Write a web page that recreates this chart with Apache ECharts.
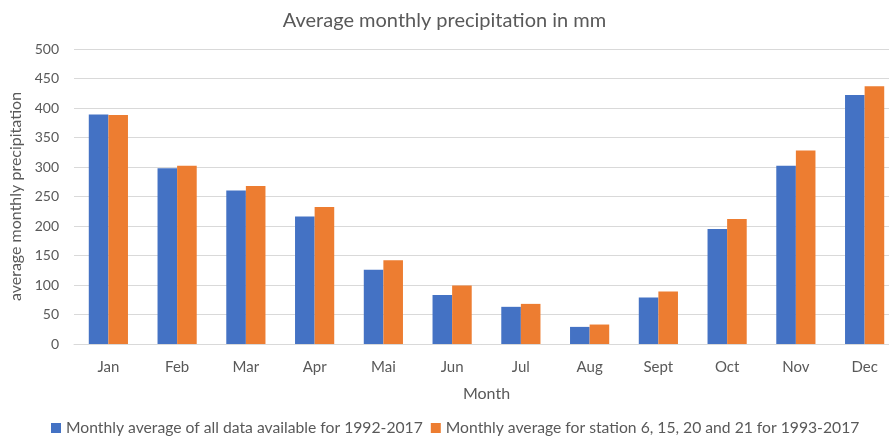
<!DOCTYPE html>
<html><head><meta charset="utf-8">
<script src="https://cdn.jsdelivr.net/npm/echarts@6/dist/echarts.min.js"></script>
<style>html,body{margin:0;padding:0;background:#fff}#c{width:889px;height:444px}</style>
</head><body><div id="c"></div>
<script>
const months = ['Jan','Feb','Mar','Apr','Mai','Jun','Jul','Aug','Sept','Oct','Nov','Dec'];
const allData = [389, 298, 260, 216, 126, 83, 63, 29, 79, 195, 302, 422];
const stationData = [388, 302, 268, 232, 142, 99, 68, 33, 89, 212, 328, 437];
const seriesNames = ['Monthly average of all data available for 1992-2017','Monthly average for station 6, 15, 20 and 21 for 1993-2017'];
const FONT = 'Lato';
const chart = echarts.init(document.getElementById('c'));
chart.setOption({
  animation:false,
  textStyle:{fontFamily:FONT},
  title:{text:'Average monthly precipitation in mm',left:'center',top:6,
    textStyle:{fontFamily:FONT,fontSize:20,fontWeight:'normal',color:'#595959'}},
  legend:{bottom:3,left:46,itemWidth:10,itemHeight:10,itemGap:8,icon:'rect',
    textStyle:{fontFamily:FONT,fontSize:15.7,color:'#595959'},data:seriesNames},
  grid:{left:74,right:-10,top:49,bottom:100,outerBoundsMode:'none',containLabel:false},
  xAxis:{type:'category',data:months,name:'Month',nameLocation:'middle',nameGap:42,
    nameTextStyle:{fontSize:16,color:'#595959',fontFamily:FONT},
    axisLine:{lineStyle:{color:'#d9d9d9'}},axisTick:{show:false},
    axisLabel:{fontSize:15,color:'#595959',margin:16}},
  yAxis:{type:'value',min:0,max:500,interval:50,name:'average monthly precipitation',
    nameLocation:'middle',nameGap:50,nameTextStyle:{fontSize:16,color:'#595959',fontFamily:FONT},
    axisLine:{show:false},axisTick:{show:false},
    axisLabel:{fontSize:14,color:'#595959',margin:15},
    splitLine:{lineStyle:{color:'#d9d9d9'}}},
  series:[
    {name:seriesNames[0],type:'bar',data:allData,barGap:'0%',barCategoryGap:'43%',itemStyle:{color:'#4472C4'}},
    {name:seriesNames[1],type:'bar',data:stationData,itemStyle:{color:'#ED7D31'}}
  ]
});
</script></body></html>
